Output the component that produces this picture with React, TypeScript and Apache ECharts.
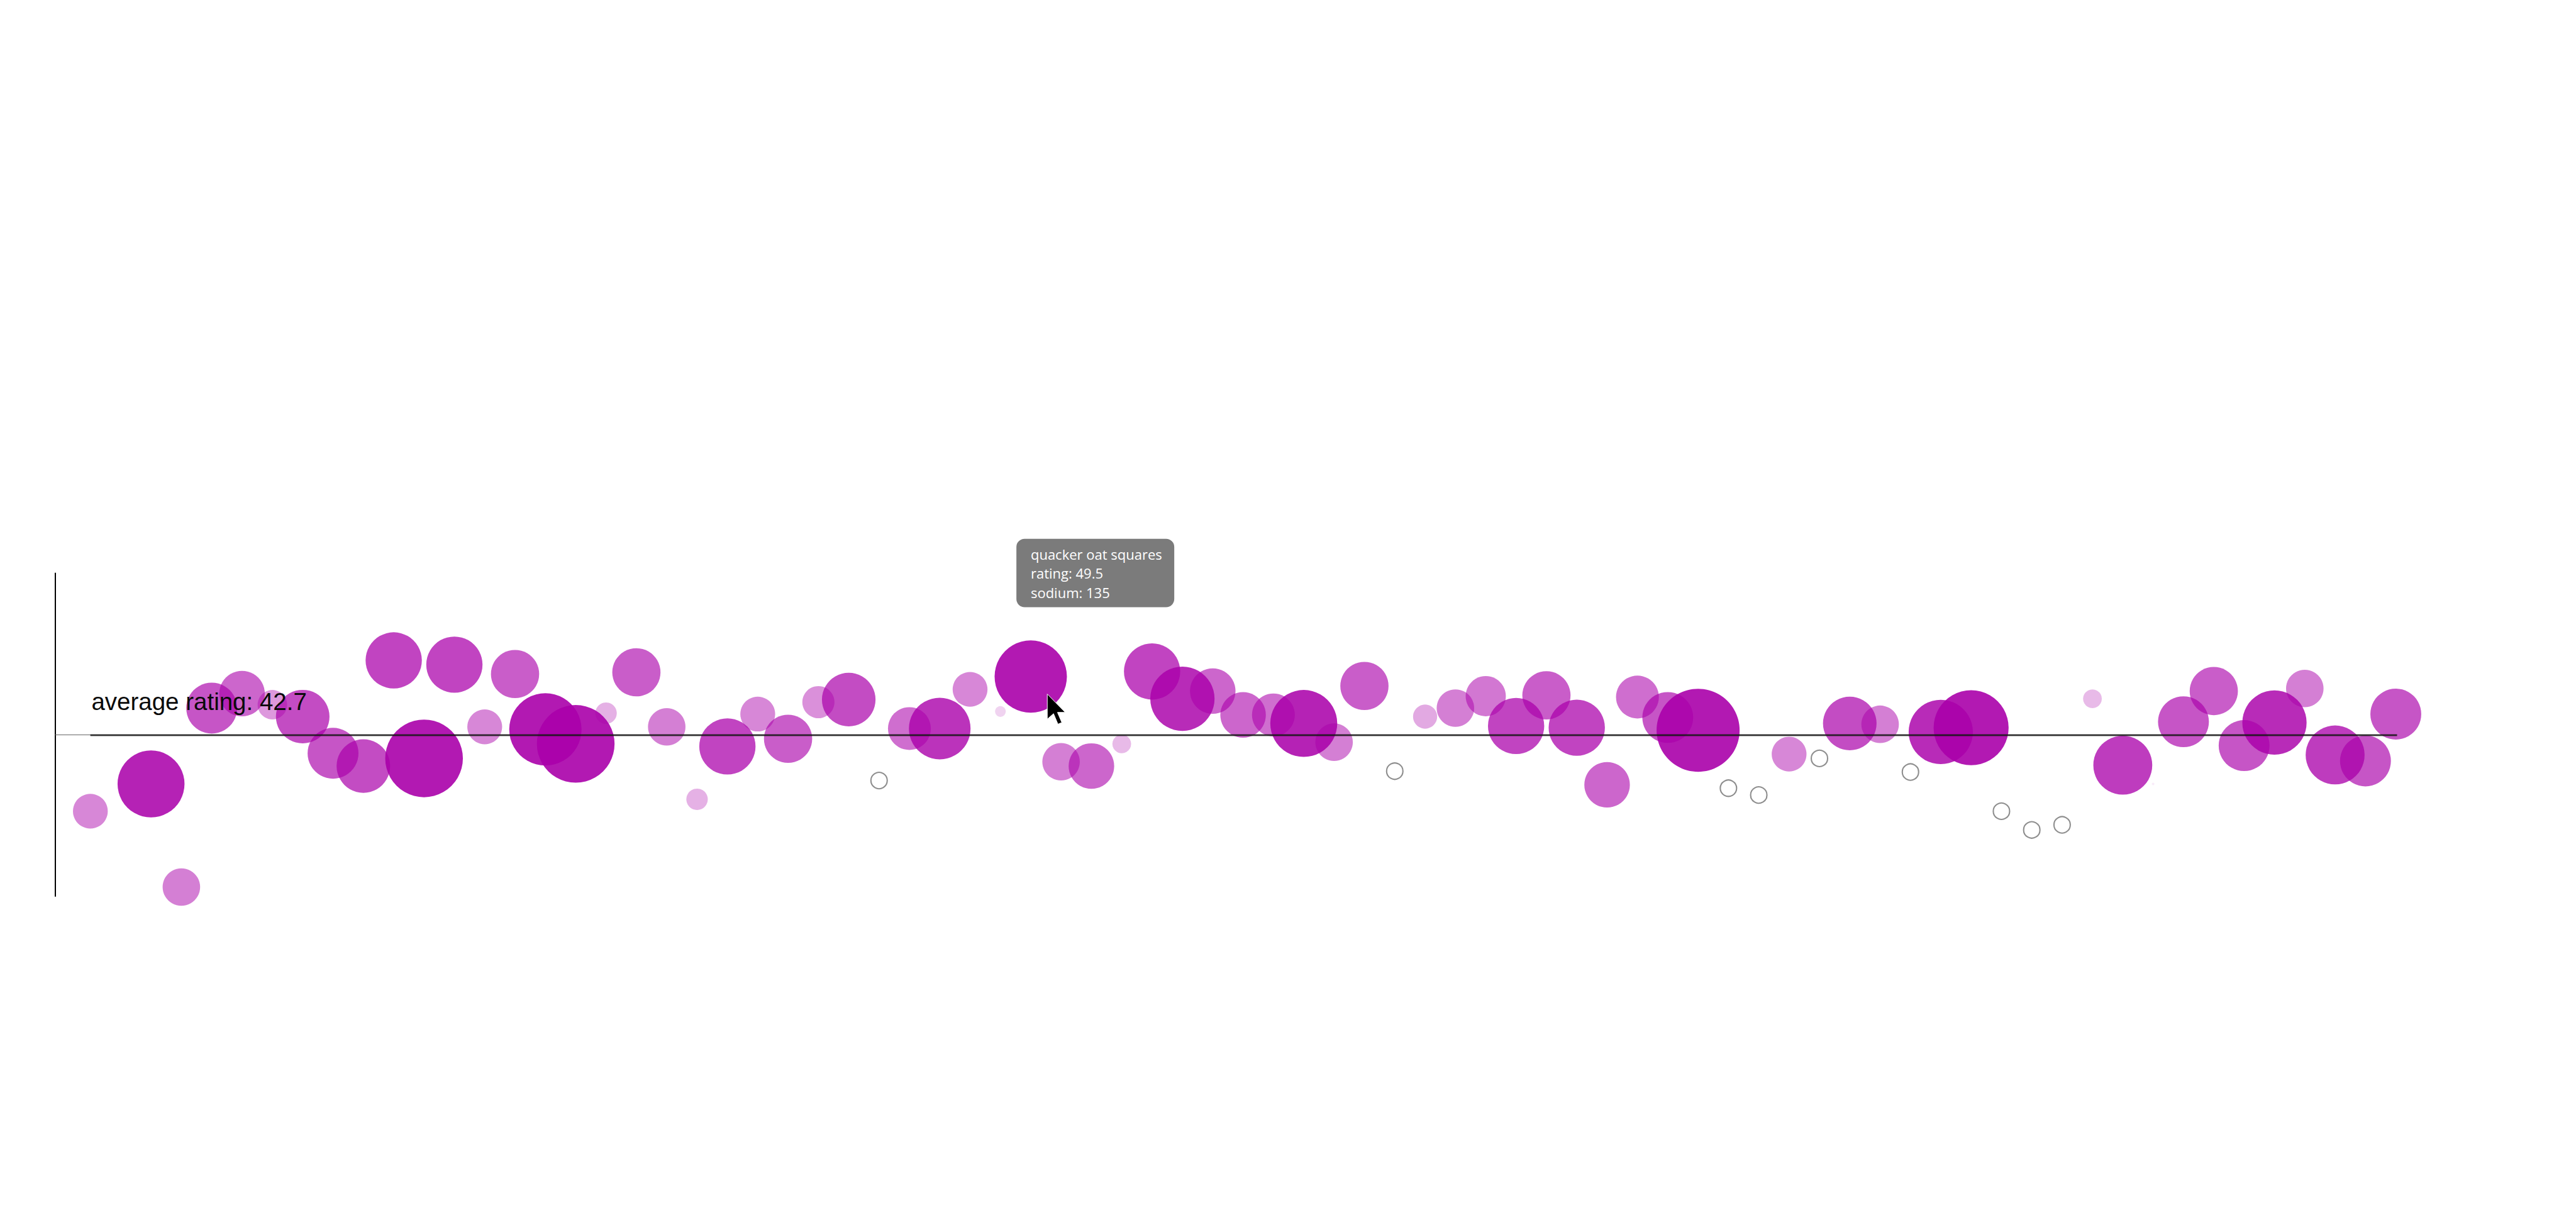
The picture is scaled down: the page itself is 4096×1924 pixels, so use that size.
import React, { useEffect, useRef } from "react";
import * as echarts from "echarts";

// ---- data ----
const AVG_RATING = 42.67;
const Y_HALF_RANGE = 18.95;
const X_MIN = -1.165;
const X_MAX = 76.04;

// one entry per cereal, in plotted order (index 1 is not drawn)
const ratings: (number | null)[] = [
  33.7, null, 36.9, 24.8, 45.8, 47.5, 46.2, 44.8, 40.5, 39.0,
  51.4, 39.9, 50.9, 43.6, 49.8, 43.3, 41.6, 45.2, 50.0, 43.6,
  35.1, 41.3, 45.1, 42.2, 46.5, 46.8, 37.3, 43.4, 43.4, 48.0,
  45.4, 49.5, 39.5, 39.0, 41.6, 50.1, 46.9, 47.8, 45.0, 45.0,
  44.0, 41.8, 48.4, 38.4, 44.8, 45.8, 47.2, 43.7, 47.3, 43.5,
  36.8, 47.1, 44.7, 43.2, 36.4, 35.6, 40.4, 39.9, 44.0, 43.9,
  38.3, 43.0, 43.5, 33.7, 31.5, 32.1, 46.9, 39.1, 36.9, 44.2,
  47.8, 41.4, 44.1, 48.1, 40.3, 39.6, 45.1,
];
const sodium: (number | null)[] = [
  65, null, 125, 70, 95, 85, 55, 100, 95, 100,
  105, 145, 105, 65, 90, 135, 145, 40, 90, 70,
  40, 105, 65, 90, 60, 100, 0, 80, 115, 65,
  20, 135, 70, 85, 35, 105, 120, 85, 85, 80,
  125, 70, 90, 0, 45, 70, 75, 105, 90, 105,
  85, 80, 95, 155, 0, 0, 65, 0, 100, 70,
  0, 120, 140, 0, 0, 0, 35, 110, 5, 95,
  90, 95, 120, 70, 110, 95, 95,
];
const HIGHLIGHT_INDEX = 31;
const HIGHLIGHT_NAME = "quacker oat squares";

// ---- encodings ----
const diameterFor = (s: number) => s * 0.8517;
const alphaFor = (s: number) => Math.min(0.9, 0.04 + s * 0.0066);

export default function App() {
  const ref = useRef<HTMLDivElement | null>(null);

  useEffect(() => {
    if (!ref.current) return;
    const chart = echarts.init(ref.current, null, { renderer: "svg" });

    const data: any[] = [];
    ratings.forEach((r, i) => {
      const s = sodium[i];
      if (r == null || s == null) return;
      if (s === 0) {
        data.push({
          value: [i, r, s],
          symbolSize: 26,
          itemStyle: { color: "rgba(0,0,0,0)", borderColor: "#8e8e8e", borderWidth: 2.1, opacity: 1 },
        });
      } else {
        data.push({
          value: [i, r, s],
          symbolSize: diameterFor(s),
          itemStyle: { color: `rgba(170,0,170,${alphaFor(s).toFixed(3)})`, opacity: 1 },
        });
      }
    });

    chart.setOption({
      animation: false,
      backgroundColor: "#ffffff",
      grid: { left: 87.5, top: 911.6, width: 3723.9, height: 513.5 },
      xAxis: {
        type: "value",
        min: X_MIN,
        max: X_MAX,
        axisLine: { show: false },
        axisTick: { show: false },
        axisLabel: { show: false },
        splitLine: { show: false },
      },
      yAxis: {
        type: "value",
        min: AVG_RATING - Y_HALF_RANGE,
        max: AVG_RATING + Y_HALF_RANGE,
        axisLine: { show: true, onZero: false, lineStyle: { color: "#000", width: 2 } },
        axisTick: { show: false },
        axisLabel: { show: false },
        splitLine: { show: false },
      },
      series: [
        {
          type: "scatter",
          clip: false,
          silent: true,
          symbol: "circle",
          itemStyle: { opacity: 1 },
          data,
          emphasis: { disabled: true },
          markLine: {
            silent: true,
            symbol: ["none", "none"],
            label: { show: false },
            emphasis: { disabled: true },
            data: [
              [
                { coord: [X_MIN, AVG_RATING], lineStyle: { color: "#666", width: 1, type: "solid" } },
                { coord: [X_MAX, AVG_RATING] },
              ],
              [
                { coord: [0, AVG_RATING], lineStyle: { color: "rgba(0,0,0,0.3)", width: 4, type: "solid" } },
                { coord: [X_MAX, AVG_RATING] },
              ],
              [
                { coord: [0, AVG_RATING], lineStyle: { color: "#151515", width: 1.7, type: "solid" } },
                { coord: [X_MAX, AVG_RATING] },
              ],
            ],
          },
        },
      ],
    });

    const hr = ratings[HIGHLIGHT_INDEX] as number;
    const hs = sodium[HIGHLIGHT_INDEX] as number;
    const [px, py] = chart.convertToPixel({ xAxisIndex: 0, yAxisIndex: 0 }, [HIGHLIGHT_INDEX, hr]) as number[];
    const [ax, ay] = chart.convertToPixel({ xAxisIndex: 0, yAxisIndex: 0 }, [0, AVG_RATING]) as number[];

    const tipFont = { fontSize: 22, fontFamily: '"Open Sans", "Noto Sans", sans-serif' };
    const tipLine = (text: string, y: number) => ({
      type: "text",
      x: 22.8,
      y,
      z: 101,
      style: {
        text,
        fill: "#ffffff",
        ...tipFont,
        align: "left",
        verticalAlign: "middle",
        textAlign: "left",
        textVerticalAlign: "middle",
      },
    });

    chart.setOption({
      graphic: [
        {
          type: "text",
          x: ax + 1.7,
          y: ay - 52.6,
          z: 100,
          style: {
            text: `average rating: ${AVG_RATING.toFixed(1)}`,
            fill: "#0a0a0a",
            fontSize: 38.5,
            fontFamily: '"Liberation Sans", Arial, Helvetica, sans-serif',
            align: "left",
            verticalAlign: "middle",
            textAlign: "left",
            textVerticalAlign: "middle",
          },
        },
        {
          type: "group",
          x: px - 22.8,
          y: py - 219,
          z: 100,
          children: [
            {
              type: "rect",
              z: 100,
              shape: { x: 0, y: 0, width: 251, height: 108.7, r: 13 },
              style: { fill: "#7b7b7b" },
            },
            tipLine(HIGHLIGHT_NAME, 23.7),
            tipLine(`rating: ${hr}`, 54.4),
            tipLine(`sodium: ${hs}`, 85.2),
          ],
        },
        {
          type: "polygon",
          x: px + 26.3,
          y: py + 27.8,
          scaleX: 2.49,
          scaleY: 2.49,
          z: 102,
          shape: {
            points: [
              [0, 0],
              [0, 16],
              [4, 12.5],
              [6.8, 19.2],
              [9.3, 18.2],
              [6.5, 11.7],
              [11.5, 11.7],
            ],
          },
          style: { fill: "#000", stroke: "#fff", lineWidth: 0.4 },
        },
      ],
    });

    return () => chart.dispose();
  }, []);

  return (
    <div
      ref={ref}
      style={{ position: "fixed", left: 0, top: 0, width: 4096, height: 1924, background: "#fff" }}
    />
  );
}
